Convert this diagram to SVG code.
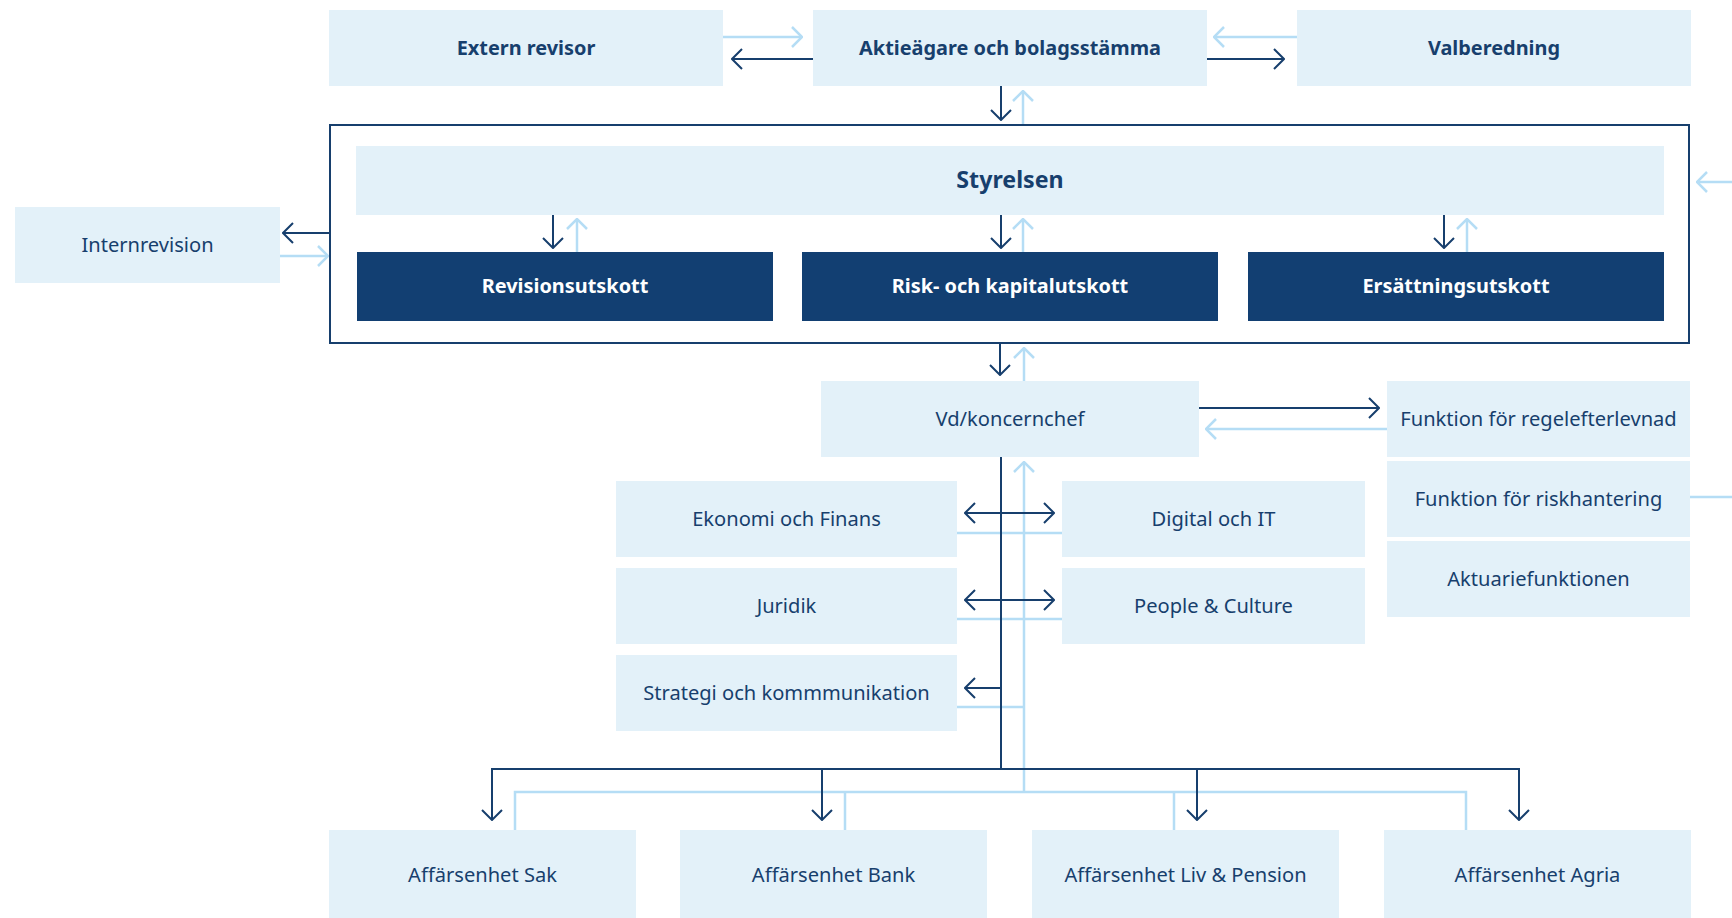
<svg xmlns="http://www.w3.org/2000/svg" width="1732" height="918" viewBox="0 0 1732 918">
<defs>
<style>
.lb{fill:#e3f1f9}
.db{fill:#123f72}
.t{font-family:"Noto Sans","Liberation Sans",sans-serif;font-size:20.1px;fill:#173f6d;text-anchor:middle;dominant-baseline:central}
.b{font-weight:bold;font-size:19.9px}
.w{fill:#ffffff}
.big{font-size:23.2px}
.dk{stroke:#173f6d;stroke-width:2;fill:none}
.lt{stroke:#b5ddf5;stroke-width:2.5;fill:none}
</style>
<marker id="ad" viewBox="0 0 12 22" refX="11" refY="11" markerWidth="12" markerHeight="22" markerUnits="userSpaceOnUse" orient="auto">
<path d="M1,1 L11,11 L1,21" fill="none" stroke="#173f6d" stroke-width="2"/>
</marker>
<marker id="al" viewBox="0 0 12 22" refX="11" refY="11" markerWidth="12" markerHeight="22" markerUnits="userSpaceOnUse" orient="auto">
<path d="M1,1 L11,11 L1,21" fill="none" stroke="#b5ddf5" stroke-width="2.5"/>
</marker>
</defs>
<rect width="1732" height="918" fill="#ffffff"/>

<g id="connectors">
<path class="lt" d="M723,37 H802" marker-end="url(#al)"/>
<path class="dk" d="M813,59 H732" marker-end="url(#ad)"/>
<path class="lt" d="M1297,37 H1214" marker-end="url(#al)"/>
<path class="dk" d="M1207,59 H1284" marker-end="url(#ad)"/>
<path class="dk" d="M1001,86 V120" marker-end="url(#ad)"/>
<path class="lt" d="M1023,125 V91" marker-end="url(#al)"/>
<path class="dk" d="M330,233 H283" marker-end="url(#ad)"/>
<path class="lt" d="M280,256 H328" marker-end="url(#al)"/>
<path class="dk" d="M553,215 V248" marker-end="url(#ad)"/>
<path class="lt" d="M577,252 V219" marker-end="url(#al)"/>
<path class="dk" d="M1001,215 V248" marker-end="url(#ad)"/>
<path class="lt" d="M1023,252 V219" marker-end="url(#al)"/>
<path class="dk" d="M1444,215 V248" marker-end="url(#ad)"/>
<path class="lt" d="M1467,252 V219" marker-end="url(#al)"/>
<path class="dk" d="M1000,343 V375" marker-end="url(#ad)"/>
<path class="lt" d="M1024,381 V348" marker-end="url(#al)"/>
<path class="dk" d="M1199,408 H1379" marker-end="url(#ad)"/>
<path class="lt" d="M1387,429 H1206" marker-end="url(#al)"/>
<path class="lt" d="M1690,497 H1750 V182 H1697" marker-end="url(#al)"/>
<path class="lt" d="M957,533 H1062 M957,619 H1062 M957,707 H1024"/>
<path class="lt" d="M1024,792 V462" marker-end="url(#al)"/>
<path class="lt" d="M515,830 V792 H1466 V830 M845,792 V830 M1174,792 V830"/>
<path class="dk" d="M1001,457 V769"/>
<path class="dk" d="M1001,513 H965" marker-end="url(#ad)"/>
<path class="dk" d="M1001,513 H1054" marker-end="url(#ad)"/>
<path class="dk" d="M1001,600 H965" marker-end="url(#ad)"/>
<path class="dk" d="M1001,600 H1054" marker-end="url(#ad)"/>
<path class="dk" d="M1001,688 H965" marker-end="url(#ad)"/>
<path class="dk" d="M1001,769 H492 V820" marker-end="url(#ad)"/>
<path class="dk" d="M1001,769 H1519 V820" marker-end="url(#ad)"/>
<path class="dk" d="M822,769 V820" marker-end="url(#ad)"/>
<path class="dk" d="M1197,769 V820" marker-end="url(#ad)"/>
</g>

<g id="styrelse-frame"><rect x="330" y="125" width="1359" height="218" fill="none" stroke="#173f6d" stroke-width="2"/></g>

<g id="extern-revisor"><rect class="lb" x="329" y="10" width="394" height="76"/><text class="t b" x="526" y="47">Extern revisor</text></g>
<g id="aktieagare"><rect class="lb" x="813" y="10" width="394" height="76"/><text class="t b" x="1010" y="47">Aktieägare och bolagsstämma</text></g>
<g id="valberedning"><rect class="lb" x="1297" y="10" width="394" height="76"/><text class="t b" x="1494" y="47">Valberedning</text></g>

<g id="styrelsen"><rect class="lb" x="356" y="146" width="1308" height="69"/><text class="t b big" x="1010" y="179">Styrelsen</text></g>
<g id="revisionsutskott"><rect class="db" x="357" y="252" width="416" height="69"/><text class="t b w" x="565" y="285.5">Revisionsutskott</text></g>
<g id="risk-kapitalutskott"><rect class="db" x="802" y="252" width="416" height="69"/><text class="t b w" x="1010" y="285.5">Risk- och kapitalutskott</text></g>
<g id="ersattningsutskott"><rect class="db" x="1248" y="252" width="416" height="69"/><text class="t b w" x="1456" y="285.5">Ersättningsutskott</text></g>

<g id="internrevision"><rect class="lb" x="15" y="207" width="265" height="76"/><text class="t" x="147.5" y="244">Internrevision</text></g>

<g id="vd"><rect class="lb" x="821" y="381" width="378" height="76"/><text class="t" x="1010" y="418">Vd/koncernchef</text></g>
<g id="regelefterlevnad"><rect class="lb" x="1387" y="381" width="303" height="76"/><text class="t" x="1538.5" y="418">Funktion för regelefterlevnad</text></g>
<g id="riskhantering"><rect class="lb" x="1387" y="461" width="303" height="76"/><text class="t" x="1538.5" y="498">Funktion för riskhantering</text></g>
<g id="aktuarie"><rect class="lb" x="1387" y="541" width="303" height="76"/><text class="t" x="1538.5" y="578">Aktuariefunktionen</text></g>

<g id="ekonomi"><rect class="lb" x="616" y="481" width="341" height="76"/><text class="t" x="786.5" y="518">Ekonomi och Finans</text></g>
<g id="digital"><rect class="lb" x="1062" y="481" width="303" height="76"/><text class="t" x="1213.5" y="518">Digital och IT</text></g>
<g id="juridik"><rect class="lb" x="616" y="568" width="341" height="76"/><text class="t" x="786.5" y="605">Juridik</text></g>
<g id="people"><rect class="lb" x="1062" y="568" width="303" height="76"/><text class="t" x="1213.5" y="605">People &amp; Culture</text></g>
<g id="strategi"><rect class="lb" x="616" y="655" width="341" height="76"/><text class="t" x="786.5" y="692">Strategi och kommmunikation</text></g>

<g id="sak"><rect class="lb" x="329" y="830" width="307" height="88"/><text class="t" x="482.5" y="874">Affärsenhet Sak</text></g>
<g id="bank"><rect class="lb" x="680" y="830" width="307" height="88"/><text class="t" x="833.5" y="874">Affärsenhet Bank</text></g>
<g id="liv"><rect class="lb" x="1032" y="830" width="307" height="88"/><text class="t" x="1185.5" y="874">Affärsenhet Liv &amp; Pension</text></g>
<g id="agria"><rect class="lb" x="1384" y="830" width="307" height="88"/><text class="t" x="1537.5" y="874">Affärsenhet Agria</text></g>
</svg>
